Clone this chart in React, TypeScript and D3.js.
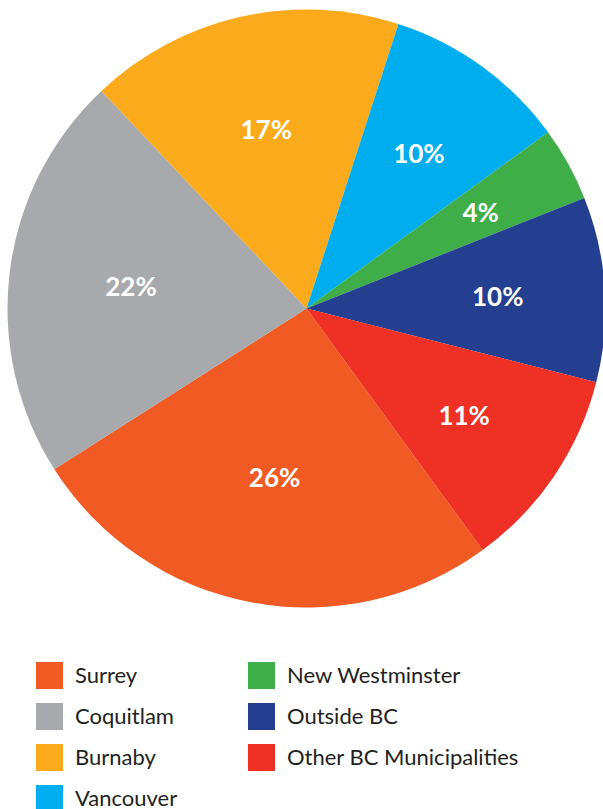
import React from "react";
import * as d3 from "d3";

const categories = ["Surrey", "Coquitlam", "Burnaby", "Vancouver", "New Westminster", "Outside BC", "Other BC Municipalities"];
const values = [26, 22, 17, 10, 4, 10, 11];
const colors = ["#F15A22", "#A7A9AC", "#FAAA1B", "#00AEEF", "#3FAE49", "#243F8F", "#EE3124"];
const legendCol1 = ["Surrey", "Coquitlam", "Burnaby", "Vancouver"];
const legendCol2 = ["New Westminster", "Outside BC", "Other BC Municipalities"];

export default function App() {
  const W = 603, H = 809;
  const cx = 306.5, cy = 308.5, r = 299;
  const start = (143.9 * Math.PI) / 180;
  const pie = d3.pie<number>().sort(null).startAngle(start).endAngle(start + 2 * Math.PI);
  const arcs = pie(values);
  const arc = d3.arc<d3.PieArcDatum<number>>().innerRadius(0).outerRadius(r);
  // label radius shrinks as slice grows
  const labelR = d3.scaleLinear().domain([4, 26]).range([199, 172]);
  const colorOf = d3.scaleOrdinal<string, string>().domain(categories).range(colors);
  const rowY = d3.scalePoint<number>().domain([0, 1, 2, 3]).range([662, 785]);
  return (
    <svg width={W} height={H} style={{ position: "absolute", left: 0, top: 0 }}>
      <g transform={`translate(${cx},${cy})`}>
        {arcs.map((a, i) => (
          <path key={i} d={arc(a) || ""} fill={colors[i]} />
        ))}
        {arcs.map((a, i) => {
          const lr = labelR(values[i]);
          const [x, y] = d3.arc<d3.PieArcDatum<number>>().innerRadius(lr).outerRadius(lr).centroid(a);
          return (
            <text key={"l" + i} x={x} y={y} dy="0.36em" textAnchor="middle" fill="#fff"
              fontFamily="Lato, 'Open Sans', sans-serif" fontWeight={700} fontSize={26}>
              {values[i]}%
            </text>
          );
        })}
      </g>
      {[legendCol1, legendCol2].map((col, ci) =>
        col.map((name, ri) => {
          const x = ci === 0 ? 36 : 248;
          const y = rowY(ri) as number;
          return (
            <g key={name}>
              <rect x={x} y={y} width={27} height={27} fill={colorOf(name)} />
              <text x={x + 39} y={y + 13.5} dy="0.36em" fill="#231F20"
                fontFamily="Lato, 'Open Sans', sans-serif" fontSize={22}>
                {name}
              </text>
            </g>
          );
        })
      )}
    </svg>
  );
}
